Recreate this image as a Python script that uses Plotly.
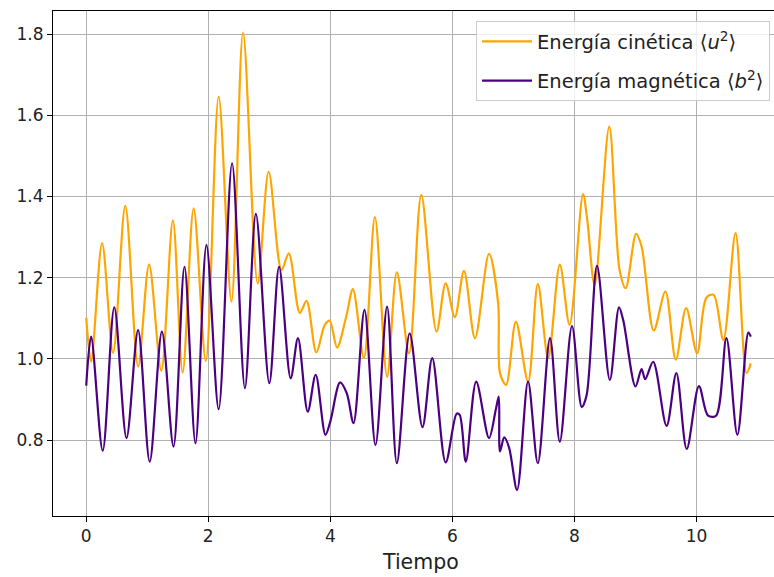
import plotly.graph_objects as go

# Energía cinética <u^2>
u_t = [0, 0.08, 0.26, 0.44, 0.64, 0.85, 1.03, 1.23, 1.42, 1.58, 1.76, 1.96, 2.17, 2.38, 2.57,
       2.81, 2.99, 3.20, 3.32, 3.50, 3.61, 3.77, 3.91, 3.99, 4.11, 4.26, 4.37, 4.55, 4.73, 4.93,
       5.09, 5.29, 5.49, 5.74, 5.89, 6.04, 6.19, 6.37, 6.60, 6.75, 6.78, 6.88, 7.04, 7.24, 7.40,
       7.57, 7.76, 7.92, 8.14, 8.21, 8.33, 8.57, 8.74, 8.84, 9.01, 9.10, 9.30, 9.49, 9.66, 9.83,
       10.01, 10.16, 10.28, 10.44, 10.64, 10.82, 10.89]
u_v = [1.101, 0.993, 1.285, 1.015, 1.377, 0.981, 1.232, 0.971, 1.341, 0.966, 1.371, 0.995, 1.646, 1.141, 1.804,
       1.186, 1.461, 1.219, 1.260, 1.113, 1.143, 1.016, 1.084, 1.094, 1.028, 1.104, 1.172, 1.002, 1.349, 0.956,
       1.213, 1.014, 1.404, 1.067, 1.186, 1.103, 1.217, 1.051, 1.259, 1.137, 0.965, 0.936, 1.092, 0.944, 1.185,
       1.002, 1.232, 1.084, 1.406, 1.342, 1.182, 1.572, 1.219, 1.174, 1.308, 1.277, 1.070, 1.166, 0.998, 1.125,
       1.014, 1.150, 1.158, 1.047, 1.310, 0.965, 0.989]

# Energía magnética <b^2>
b_t = [0, 0.08, 0.27, 0.46, 0.66, 0.85, 1.04, 1.24, 1.43, 1.61, 1.79, 1.97, 2.17, 2.39, 2.60,
       2.78, 3.00, 3.16, 3.35, 3.47, 3.63, 3.76, 3.92, 4.00, 4.16, 4.27, 4.38, 4.56, 4.74, 4.93,
       5.09, 5.30, 5.51, 5.67, 5.89, 6.07, 6.12, 6.22, 6.39, 6.60, 6.71, 6.76, 6.78, 6.85, 6.93,
       7.06, 7.24, 7.40, 7.60, 7.76, 7.96, 8.12, 8.20, 8.37, 8.58, 8.73, 8.80, 9.00, 9.10, 9.16,
       9.29, 9.51, 9.67, 9.84, 10.04, 10.19, 10.32, 10.49, 10.67, 10.85, 10.89]
b_v = [0.934, 1.055, 0.774, 1.127, 0.805, 1.071, 0.747, 1.067, 0.784, 1.227, 0.792, 1.281, 0.876, 1.482, 0.928,
       1.357, 0.940, 1.227, 0.952, 1.051, 0.870, 0.961, 0.813, 0.846, 0.942, 0.915, 0.842, 1.121, 0.788, 1.129,
       0.743, 1.063, 0.832, 1.002, 0.745, 0.865, 0.862, 0.747, 0.944, 0.805, 0.874, 0.907, 0.772, 0.807, 0.781,
       0.677, 0.944, 0.743, 1.051, 0.796, 1.081, 0.881, 0.911, 1.229, 0.948, 1.127, 1.095, 0.932, 0.975, 0.950,
       0.993, 0.835, 0.965, 0.778, 0.933, 0.860, 0.860, 1.051, 0.813, 1.065, 1.055]

x_ticks = [0, 2, 4, 6, 8, 10]
y_ticks = [0.8, 1.0, 1.2, 1.4, 1.6, 1.8]

FONT = "DejaVu Sans"

fig = go.Figure()
fig.add_trace(go.Scatter(
    x=u_t, y=u_v, mode="lines", line=dict(color="#FFA500", width=2.2, shape="spline", smoothing=0.9),
    name="Energía cinética ⟨<i>u</i><sup>2</sup>⟩", legendgroup="u"))
fig.add_trace(go.Scatter(
    x=b_t, y=b_v, mode="lines", line=dict(color="#4B0082", width=2.2, shape="spline", smoothing=0.9),
    name="Energía magnética ⟨<i>b</i><sup>2</sup>⟩", legendgroup="b"))

fig.update_layout(
    width=774, height=577,
    margin=dict(l=53, r=0, t=11, b=61),
    paper_bgcolor="white", plot_bgcolor="white",
    font=dict(family=FONT, size=17, color="#222222"),
    showlegend=True,
    legend=dict(
        x=0.9945, xanchor="right", y=0.98, yanchor="top",
        bgcolor="rgba(255,255,255,0.8)", bordercolor="#cccccc", borderwidth=1,
        font=dict(family=FONT, size=19.5, color="#222222"),
        traceorder="grouped", tracegroupgap=11, itemwidth=50,
    ),
    xaxis=dict(
        range=[-0.5445, 11.27], tickvals=x_ticks, ticktext=[str(v) for v in x_ticks],
        showgrid=True, gridcolor="#b0b0b0", gridwidth=1, zeroline=False,
        showline=True, linecolor="black", linewidth=1, mirror=True,
        ticks="outside", ticklen=5, tickcolor="black",
        tickfont=dict(family=FONT, size=17, color="#222222"),
    ),
    yaxis=dict(
        range=[0.613, 1.857], tickvals=y_ticks, ticktext=[f"{v:.1f}" for v in y_ticks],
        showgrid=True, gridcolor="#b0b0b0", gridwidth=1, zeroline=False,
        showline=True, linecolor="black", linewidth=1, mirror=False,
        ticks="outside", ticklen=5, tickcolor="black",
        tickfont=dict(family=FONT, size=17, color="#222222"),
    ),
)

fig.add_annotation(
    text="Tiempo", x=5.48, xref="x", y=-0.064, yref="paper",
    xanchor="center", yanchor="top", showarrow=False,
    font=dict(family=FONT, size=20.5, color="#222222"),
)

fig.write_html("out.html")
